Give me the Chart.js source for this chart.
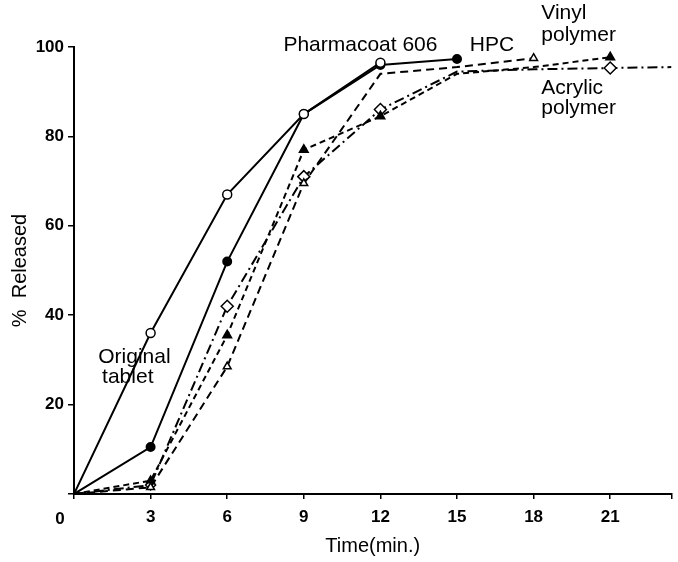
<!DOCTYPE html>
<html>
<head>
<meta charset="utf-8">
<script src="https://cdn.jsdelivr.net/npm/chart.js@4"></script>
<style>
  html, body { margin: 0; padding: 0; background: #fff; }
  #wrap { width: 678px; height: 562px; }
</style>
</head>
<body>
<div id="wrap"><canvas id="releaseChart" width="678" height="562"></canvas></div>
<script>
// sampling times (min.)
const times = [0, 3, 6, 9, 12, 15, 18, 21, 23.4];

// % released per formulation
const originalTablet = [0, 36, 67, 85, 96.5];
const pharmacoat606 = [0, 10.5, 52, 85, 96, 97.3];
const hpc = [0, 1.5, 28.5, 69.5, 94, 95.5, 97.5];
const vinylPolymer = [0, 3, 35.5, 77, 84.5, 94, 95.5, 97.7];
const acrylicPolymer = [0, 2, 42, 71, 86, 94.5, 95, 95.3, 95.5];

// text placed on the plot, in data units
const notes = [
  { text: 'Pharmacoat 606', x: 8.2, y: 100.3 },
  { text: 'HPC', x: 15.5, y: 100.3 },
  { text: 'Vinyl', x: 18.3, y: 107.5 },
  { text: 'polymer', x: 18.3, y: 102.6 },
  { text: 'Acrylic', x: 18.3, y: 90.8 },
  { text: 'polymer', x: 18.3, y: 86.4 },
  { text: 'Original', x: 0.95, y: 30.5 },
  { text: 'tablet', x: 1.1, y: 26.2 }
];

const tickFont = { family: '"Liberation Sans Narrow", "Liberation Sans", Arial, sans-serif', size: 17, weight: 'bold' };

function pts(values) {
  return values.map((v, i) => ({ x: times[i], y: v }));
}

const noteLabels = {
  id: 'noteLabels',
  afterDatasetsDraw(chart) {
    const { ctx, scales } = chart;
    ctx.save();
    ctx.fillStyle = '#000';
    ctx.font = '21px "Liberation Sans", Arial, sans-serif';
    ctx.textBaseline = 'middle';
    ctx.textAlign = 'left';
    notes.forEach(n => {
      ctx.fillText(n.text, scales.x.getPixelForValue(n.x), scales.y.getPixelForValue(n.y));
    });
    // shared origin label
    ctx.font = 'bold 17px "Liberation Sans Narrow", "Liberation Sans", Arial, sans-serif';
    ctx.textAlign = 'center';
    ctx.fillText('0', scales.x.getPixelForValue(0) - 14, scales.y.getPixelForValue(0) + 25);
    ctx.restore();
  }
};

const ctx = document.getElementById('releaseChart').getContext('2d');
new Chart(ctx, {
  type: 'line',
  data: {
    datasets: [
      { // Original tablet
        label: 'Original tablet',
        data: pts(originalTablet),
        borderColor: '#000',
        borderWidth: 2,
        pointStyle: 'circle',
        pointRadius: [0, 4.5, 4.5, 4.5, 4.5],
        pointBackgroundColor: '#fff',
        pointBorderColor: '#000',
        pointBorderWidth: 1.5
      },
      { // Pharmacoat 606
        label: 'Pharmacoat 606',
        data: pts(pharmacoat606),
        borderColor: '#000',
        borderWidth: 2,
        pointStyle: 'circle',
        pointRadius: [0, 4, 4, 4, 4, 4],
        pointBackgroundColor: '#000',
        pointBorderColor: '#000'
      },
      { // HPC
        label: 'HPC',
        data: pts(hpc),
        borderColor: '#000',
        borderWidth: 2,
        borderDash: [8, 5],
        pointStyle: 'triangle',
        pointRadius: [0, 4.5, 4.5, 4.5, 0, 0, 4.5],
        pointBackgroundColor: '#fff',
        pointBorderColor: '#000',
        pointBorderWidth: 1.5
      },
      { // Vinyl polymer
        label: 'Vinyl polymer',
        data: pts(vinylPolymer),
        borderColor: '#000',
        borderWidth: 2,
        borderDash: [6, 4],
        pointStyle: 'triangle',
        pointRadius: [0, 4, 4.5, 4.5, 4.5, 0, 0, 4.5],
        pointBackgroundColor: '#000',
        pointBorderColor: '#000'
      },
      { // Acrylic polymer
        label: 'Acrylic polymer',
        data: pts(acrylicPolymer),
        borderColor: '#000',
        borderWidth: 2,
        borderDash: [10, 4, 2, 4],
        pointStyle: 'rectRot',
        pointRadius: [0, 5, 6, 6, 6, 0, 0, 6, 0],
        pointBackgroundColor: '#fff',
        pointBorderColor: '#000',
        pointBorderWidth: 1.5
      }
    ]
  },
  options: {
    responsive: false,
    animation: false,
    layout: { padding: { top: 47, right: 0, left: 0, bottom: 0 } },
    plugins: {
      legend: { display: false },
      tooltip: { enabled: false }
    },
    scales: {
      x: {
        type: 'linear',
        min: 0,
        max: 23.4,
        afterFit(scale) {
          scale.height = 68;
          scale.paddingRight = 0;
        },
        border: { color: '#000', width: 2 },
        grid: { drawOnChartArea: false, color: '#000', tickLength: 5, lineWidth: 1.5 },
        ticks: {
          stepSize: 3,
          color: '#000',
          padding: 8,
          font: tickFont,
          callback: v => (v === 0 || v % 3 !== 0) ? '' : v
        },
        title: {
          display: true,
          text: 'Time(min.)',
          color: '#000',
          padding: { top: 0 },
          font: { family: '"Liberation Sans", Arial, sans-serif', size: 20 }
        }
      },
      y: {
        min: 0,
        max: 100,
        afterFit(scale) { scale.width = 74; },
        border: { color: '#000', width: 2 },
        grid: { drawOnChartArea: false, color: '#000', tickLength: 6, lineWidth: 1.5 },
        ticks: {
          stepSize: 20,
          color: '#000',
          padding: 4,
          font: tickFont,
          callback: v => v === 0 ? '' : v
        },
        title: {
          display: true,
          text: '%  Released',
          color: '#000',
          padding: { top: 8, bottom: 6 },
          font: { family: '"Liberation Sans", Arial, sans-serif', size: 20 }
        }
      }
    }
  },
  plugins: [noteLabels]
});
</script>
</body>
</html>
